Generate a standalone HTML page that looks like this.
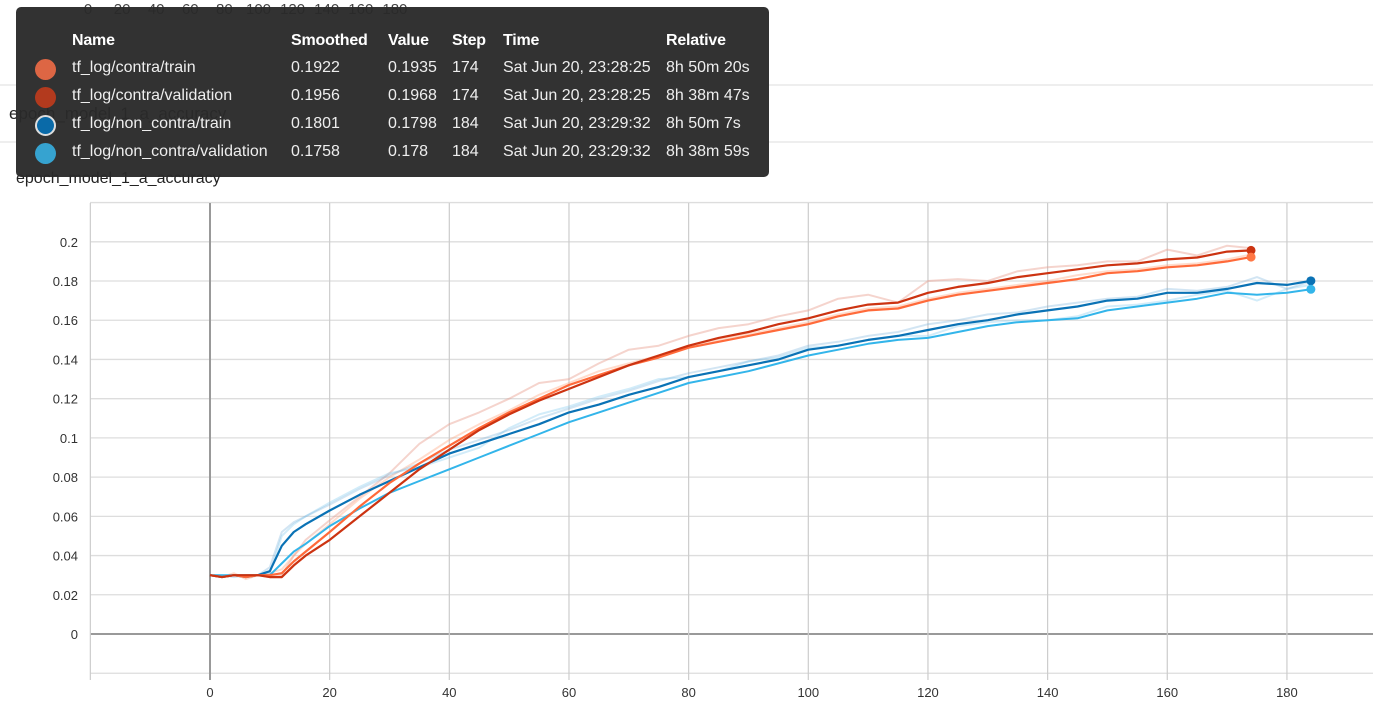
<!DOCTYPE html>
<html><head><meta charset="utf-8">
<style>
body{margin:0;width:1373px;height:707px;background:#fff;overflow:hidden;font-family:"Liberation Sans",sans-serif;position:relative}
#chart{position:absolute;left:0;top:0}
.bgtxt{position:absolute;color:#222;font-size:15px;white-space:nowrap}
#tip{position:absolute;left:16px;top:7px;width:753px;height:170px;background:rgba(42,42,42,0.96);border-radius:5px;color:#eee;font-size:16px}
#tip .c{position:absolute;white-space:nowrap}
#tip .h{font-weight:bold;font-size:16px;color:#fff;letter-spacing:-0.2px}
.dot{position:absolute;width:21px;height:21px;border-radius:50%;box-sizing:border-box}
.tk{position:absolute;top:1px;font-size:15px;color:#444;transform:translateX(-50%)}
</style></head><body>
<svg id="chart" width="1373" height="707"></svg>
<div id="topax"></div>
<div class="bgtxt" style="left:9px;top:104px;font-size:17px">epoch_model_1_a_accuracy</div>
<div class="bgtxt" style="left:16px;top:170px;font-size:16px">epoch_model_1_a_accuracy</div>
<div id="tip">
 <div class="c h" style="left:56px;top:25px">Name</div>
 <div class="c h" style="left:275px;top:25px">Smoothed</div>
 <div class="c h" style="left:372px;top:25px">Value</div>
 <div class="c h" style="left:436px;top:25px">Step</div>
 <div class="c h" style="left:487px;top:25px">Time</div>
 <div class="c h" style="left:650px;top:25px">Relative</div>
 <div id="rows"></div>
</div>
<script>
const NS="http://www.w3.org/2000/svg";
const svg=document.getElementById('chart');
// data
const xTicks=[0,20,40,60,80,100,120,140,160,180];
const yTicks=[0,0.02,0.04,0.06,0.08,0.1,0.12,0.14,0.16,0.18,0.2];
const yLabels=["0","0.02","0.04","0.06","0.08","0.1","0.12","0.14","0.16","0.18","0.2"];
const stepsContra=[0,2,4,6,8,10,12,14,16,20,25,30,35,40,45,50,55,60,65,70,75,80,85,90,95,100,105,110,115,120,125,130,135,140,145,150,155,160,165,170,174];
const contraTrainSm=[0.03,0.029,0.03,0.029,0.03,0.03,0.031,0.037,0.042,0.052,0.065,0.077,0.087,0.096,0.105,0.113,0.12,0.127,0.132,0.137,0.141,0.146,0.149,0.152,0.155,0.158,0.162,0.165,0.166,0.17,0.173,0.175,0.177,0.179,0.181,0.184,0.185,0.187,0.188,0.19,0.1922];
const contraTrainRaw=[0.03,0.029,0.031,0.028,0.03,0.031,0.033,0.04,0.046,0.056,0.069,0.08,0.089,0.099,0.107,0.114,0.122,0.128,0.134,0.138,0.142,0.147,0.15,0.153,0.156,0.159,0.163,0.166,0.167,0.171,0.174,0.176,0.178,0.18,0.183,0.185,0.186,0.188,0.189,0.191,0.1935];
const contraValSm=[0.03,0.029,0.03,0.03,0.03,0.029,0.029,0.035,0.04,0.048,0.06,0.072,0.084,0.094,0.104,0.112,0.119,0.125,0.131,0.137,0.142,0.147,0.151,0.154,0.158,0.161,0.165,0.168,0.169,0.174,0.177,0.179,0.182,0.184,0.186,0.188,0.189,0.191,0.192,0.195,0.1956];
const contraValRaw=[0.03,0.029,0.03,0.03,0.03,0.029,0.03,0.04,0.048,0.058,0.07,0.082,0.097,0.107,0.113,0.12,0.128,0.13,0.138,0.145,0.147,0.152,0.156,0.158,0.162,0.165,0.171,0.173,0.169,0.18,0.181,0.18,0.185,0.187,0.188,0.19,0.19,0.196,0.193,0.198,0.1968];
const stepsNon=[0,2,4,6,8,10,12,14,16,20,25,30,35,40,45,50,55,60,65,70,75,80,85,90,95,100,105,110,115,120,125,130,135,140,145,150,155,160,165,170,175,180,184];
const nonTrainSm=[0.03,0.029,0.03,0.029,0.03,0.032,0.045,0.052,0.056,0.063,0.071,0.078,0.085,0.092,0.097,0.102,0.107,0.113,0.117,0.122,0.126,0.131,0.134,0.137,0.14,0.145,0.147,0.15,0.152,0.155,0.158,0.16,0.163,0.165,0.167,0.17,0.171,0.174,0.174,0.176,0.179,0.178,0.1801];
const nonTrainRaw=[0.03,0.03,0.029,0.03,0.03,0.034,0.052,0.057,0.06,0.066,0.074,0.081,0.087,0.094,0.099,0.104,0.11,0.115,0.12,0.124,0.129,0.133,0.136,0.139,0.142,0.147,0.149,0.152,0.154,0.158,0.16,0.163,0.164,0.167,0.169,0.171,0.172,0.176,0.175,0.177,0.182,0.176,0.1798];
const nonValSm=[0.03,0.03,0.03,0.03,0.03,0.03,0.036,0.042,0.046,0.055,0.064,0.072,0.078,0.084,0.09,0.096,0.102,0.108,0.113,0.118,0.123,0.128,0.131,0.134,0.138,0.142,0.145,0.148,0.15,0.151,0.154,0.157,0.159,0.16,0.161,0.165,0.167,0.169,0.171,0.174,0.173,0.174,0.1758];
const nonValRaw=[0.03,0.03,0.03,0.03,0.03,0.031,0.05,0.056,0.06,0.067,0.075,0.082,0.085,0.09,0.095,0.105,0.112,0.116,0.121,0.125,0.13,0.131,0.134,0.139,0.141,0.146,0.147,0.15,0.152,0.152,0.157,0.159,0.16,0.16,0.162,0.167,0.168,0.17,0.173,0.175,0.17,0.176,0.178];
// scales
const X=v=>210+v*5.983;
const Y=v=>634-v*1961;
const TX=v=>88+v*1.705;
function el(tag,attrs,parent){const e=document.createElementNS(NS,tag);for(const k in attrs)e.setAttribute(k,attrs[k]);(parent||svg).appendChild(e);return e;}
// background elements
[85,142].forEach(y=>{const l=el('line',{x1:0,x2:1373,y1:y,y2:y,stroke:'#ddd','stroke-width':1});

});
const topax=document.getElementById('topax');
xTicks.forEach(v=>{const d=document.createElement('div');d.className='tk';d.style.left=TX(v)+'px';d.textContent=String(v);


topax.appendChild(d);});
// grid
for(let v=-0.02;v<=0.2201;v+=0.02){const g=el('line',{x1:90,x2:1373,y1:Y(v),y2:Y(v),stroke:Math.abs(v)<1e-6?'#999':'#ddd','stroke-width':Math.abs(v)<1e-6?2:1.3});

}
for(let v=-20;v<=200;v+=20){const g=el('line',{x1:X(v),x2:X(v),y1:203,y2:680,stroke:v===0?'#999':'#ccc','stroke-width':v===0?2:1.2});

}
yTicks.forEach((v,i)=>{const t=el('text',{x:78,y:Y(v)+5,'text-anchor':'end','font-size':13,fill:'#333','font-family':'Liberation Sans'});t.textContent=yLabels[i];

});
xTicks.forEach(v=>{const t=el('text',{x:X(v),y:697,'text-anchor':'middle','font-size':13,fill:'#333','font-family':'Liberation Sans'});t.textContent=String(v);

});
function line(steps,vals,color,w,op,name){const d=steps.map((s,i)=>(i?'L':'M')+X(s).toFixed(1)+' '+Y(vals[i]).toFixed(1)).join(' ');
const p=el('path',{d:d,fill:'none',stroke:color,'stroke-width':w,'stroke-opacity':op,'stroke-linejoin':'round'});

}
line(stepsContra,contraValRaw,'#e8a090',2,0.45,'contra-validation-raw');
line(stepsContra,contraTrainRaw,'#ff9a70',2,0.35,'contra-train-raw');
line(stepsNon,nonValRaw,'#8fd0f0',2,0.4,'non-contra-validation-raw');
line(stepsNon,nonTrainRaw,'#6aa8d8',2,0.3,'non-contra-train-raw');
line(stepsNon,nonValSm,'#33b5ea',2,1,'non-contra-validation-line');
line(stepsNon,nonTrainSm,'#0a72b5',2.2,1,'non-contra-train-line');
line(stepsContra,contraTrainSm,'#ff6a3a',2.2,1,'contra-train-line');
line(stepsContra,contraValSm,'#cc3311',2.2,1,'contra-validation-line');
[[stepsContra,contraValSm,'#cc3311'],[stepsContra,contraTrainSm,'#ff7745'],[stepsNon,nonTrainSm,'#0a72b5'],[stepsNon,nonValSm,'#33b5ea']].forEach(a=>{const n=a[0].length-1;const c=el('circle',{cx:X(a[0][n]),cy:Y(a[1][n]),r:4.5,fill:a[2]});

});
// tooltip rows
const names=["tf_log/contra/train","tf_log/contra/validation","tf_log/non_contra/train","tf_log/non_contra/validation"];
const smoothed=["0.1922","0.1956","0.1801","0.1758"];
const values=["0.1935","0.1968","0.1798","0.178"];
const stepsL=["174","174","184","184"];
const times=["Sat Jun 20, 23:28:25","Sat Jun 20, 23:28:25","Sat Jun 20, 23:29:32","Sat Jun 20, 23:29:32"];
const rel=["8h 50m 20s","8h 38m 47s","8h 50m 7s","8h 38m 59s"];
const cols=["#dd6644","#b33a1e","#0a6aa8","#36a3d0"];
const rows=document.getElementById('rows');
names.forEach((n,i)=>{const top=52+i*28;
const r=document.createElement('div');


r.innerHTML='<div class="dot" style="left:19px;top:'+(top)+'px;background:'+cols[i]+(i==2?';border:2px solid #ddd':'')+'"></div>'+
'<div class="c" style="left:56px;top:'+top+'px">'+n+'</div><div class="c" style="left:275px;top:'+top+'px">'+smoothed[i]+'</div><div class="c" style="left:372px;top:'+top+'px">'+values[i]+'</div><div class="c" style="left:436px;top:'+top+'px">'+stepsL[i]+'</div><div class="c" style="left:487px;top:'+top+'px">'+times[i]+'</div><div class="c" style="left:650px;top:'+top+'px">'+rel[i]+'</div>';
rows.appendChild(r);});
</script>
</body></html>
